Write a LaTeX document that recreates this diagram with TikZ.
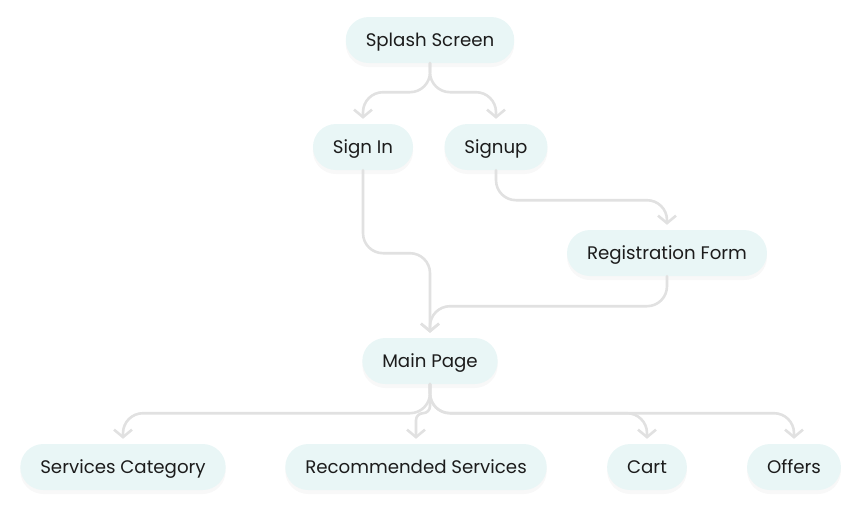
\documentclass[tikz,border=0pt]{standalone}
\usepackage{fontspec}
\setmainfont{Poppins}
\usepackage{tikz}
\usetikzlibrary{arrows.meta, shadows}
\definecolor{pillfill}{RGB}{233,246,246}
\definecolor{linkgrey}{RGB}{225,225,225}
\definecolor{inkdark}{RGB}{28,28,28}

\begin{document}
\begin{tikzpicture}[
  x=1pt, y=-1pt,
  pill/.style={rectangle, fill=pillfill, rounded corners=23pt, minimum height=46pt, inner xsep=20pt, text height=12.8pt, text depth=0pt, text=inkdark, font=\fontsize{18.2}{21}\selectfont, drop shadow={opacity=0.06, shadow xshift=0pt, shadow yshift=-4pt}},
  conn/.style={-{Straight Barb[length=7.5pt, width=18pt]}, line width=2.6pt, linkgrey, rounded corners=20pt, line cap=round, line join=round, shorten >=5pt}
]
  \useasboundingbox (0,0) rectangle (861,515);
  \node[pill] (splash) at (430,40) {Splash Screen};
  \node[pill] (signin) at (363,147) {Sign In};
  \node[pill] (signup) at (496,147) {Signup};
  \node[pill] (regform) at (667,253) {Registration Form};
  \node[pill] (mainpg) at (430,361) {Main Page};
  \node[pill] (servcat) at (123,467) {Services Category};
  \node[pill] (recserv) at (416,467) {Recommended Services};
  \node[pill] (cart) at (647,467) {Cart};
  \node[pill] (offers) at (794,467) {Offers};

  \draw[conn] (splash.south) -- ++(0,29) -| (signin.north);
  \draw[conn] (splash.south) -- ++(0,29) -| (signup.north);
  \draw[conn] (signin.south) -- ++(0,83) -| (mainpg.north);
  \draw[conn] (signup.south) -- ++(0,30) -| (regform.north);
  \draw[conn] (regform.south) -- ++(0,30) -| (mainpg.north);
  \draw[conn] (mainpg.south) -- ++(0,29) -| (servcat.north);
  \draw[conn, rounded corners=7pt] (mainpg.south) -- ++(0,29) -| (recserv.north);
  \draw[conn] (mainpg.south) -- ++(0,29) -| (cart.north);
  \draw[conn] (mainpg.south) -- ++(0,29) -| (offers.north);
\end{tikzpicture}
\end{document}
